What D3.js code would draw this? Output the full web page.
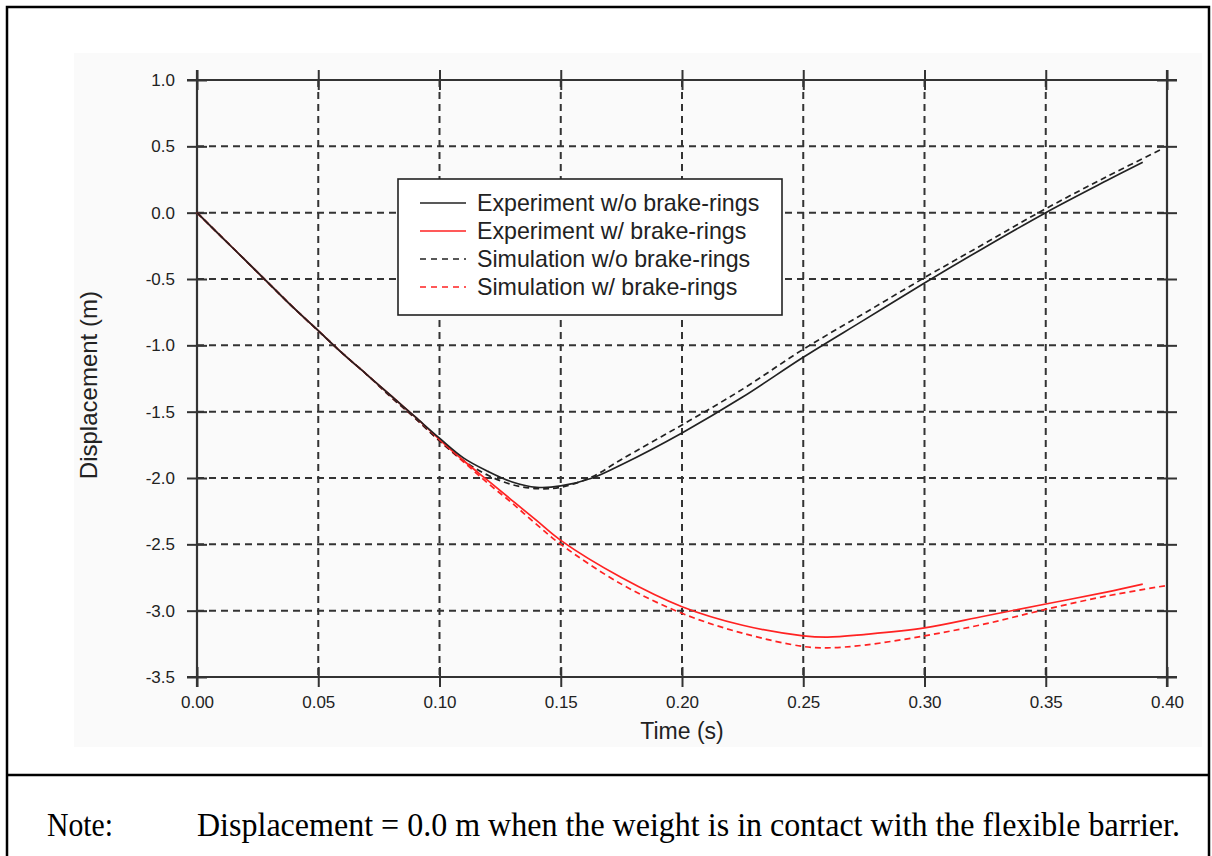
<!DOCTYPE html>
<html>
<head>
<meta charset="utf-8">
<script src="https://cdn.jsdelivr.net/npm/d3@7"></script>
<style>
  html, body { margin: 0; padding: 0; background: #ffffff; }
  svg { display: block; }
</style>
</head>
<body>
<svg id="chart" width="1212" height="856"></svg>
<script>
// ---------------- data ----------------
const seriesNames = [
  "Experiment w/o brake-rings",
  "Experiment w/ brake-rings",
  "Simulation w/o brake-rings",
  "Simulation w/ brake-rings"
];

const tNoRings = [0, 0.01, 0.02, 0.03, 0.04, 0.05, 0.06, 0.07, 0.08, 0.09, 0.10, 0.11, 0.12, 0.13, 0.14, 0.15, 0.163, 0.175, 0.20, 0.225, 0.25, 0.275, 0.30, 0.325, 0.35, 0.375, 0.39];
const expNoRings = [0, -0.18, -0.36, -0.54, -0.72, -0.89, -1.06, -1.22, -1.38, -1.54, -1.70, -1.85, -1.95, -2.03, -2.07, -2.06, -2.00, -1.90, -1.66, -1.39, -1.09, -0.81, -0.53, -0.26, 0.00, 0.24, 0.38];

const tSimNoRings = [0, 0.01, 0.02, 0.03, 0.04, 0.05, 0.06, 0.07, 0.08, 0.09, 0.10, 0.11, 0.12, 0.13, 0.14, 0.15, 0.163, 0.175, 0.20, 0.225, 0.25, 0.275, 0.30, 0.325, 0.35, 0.375, 0.398];
const simNoRings = [0, -0.18, -0.36, -0.54, -0.72, -0.89, -1.06, -1.22, -1.39, -1.55, -1.72, -1.87, -1.98, -2.05, -2.08, -2.07, -1.99, -1.86, -1.60, -1.33, -1.03, -0.76, -0.49, -0.23, 0.03, 0.27, 0.48];

const tRings = [0, 0.01, 0.02, 0.03, 0.04, 0.05, 0.06, 0.07, 0.08, 0.09, 0.10, 0.11, 0.12, 0.13, 0.14, 0.15, 0.175, 0.20, 0.225, 0.25, 0.26, 0.275, 0.30, 0.325, 0.35, 0.375, 0.39];
const expRings = [0, -0.18, -0.36, -0.54, -0.72, -0.89, -1.06, -1.22, -1.38, -1.54, -1.71, -1.87, -2.02, -2.17, -2.32, -2.47, -2.75, -2.97, -3.11, -3.19, -3.20, -3.18, -3.13, -3.04, -2.95, -2.86, -2.80];

const tSimRings = [0, 0.01, 0.02, 0.03, 0.04, 0.05, 0.06, 0.07, 0.08, 0.09, 0.10, 0.11, 0.12, 0.13, 0.14, 0.15, 0.175, 0.20, 0.225, 0.25, 0.26, 0.275, 0.30, 0.325, 0.35, 0.375, 0.40];
const simRings = [0, -0.18, -0.36, -0.54, -0.72, -0.89, -1.06, -1.22, -1.39, -1.55, -1.72, -1.88, -2.04, -2.19, -2.35, -2.50, -2.80, -3.02, -3.17, -3.27, -3.28, -3.26, -3.19, -3.10, -2.99, -2.89, -2.81];

const xTicks = [0, 0.05, 0.10, 0.15, 0.20, 0.25, 0.30, 0.35, 0.40];
const yTicks = [1.0, 0.5, 0.0, -0.5, -1.0, -1.5, -2.0, -2.5, -3.0, -3.5];

const xTitle = "Time (s)";
const yTitle = "Displacement (m)";
const noteLabel = "Note:";
const noteText = "Displacement = 0.0 m when the weight is in contact with the flexible barrier.";

// ---------------- drawing ----------------
const svg = d3.select("#chart");
const sans = "'Liberation Sans', Arial, Helvetica, sans-serif";
const serif = "'Liberation Serif', 'Times New Roman', Times, serif";
const axisColor = "#333333";

// outer frame and divider
svg.append("rect").attr("x", 7).attr("y", 7).attr("width", 1202).attr("height", 870)
  .attr("fill", "none").attr("stroke", "#000").attr("stroke-width", 2.5);
svg.append("line").attr("x1", 7).attr("x2", 1209).attr("y1", 775).attr("y2", 775)
  .attr("stroke", "#000").attr("stroke-width", 2.5);

// chart panel background
svg.append("rect").attr("x", 74).attr("y", 53).attr("width", 1128).attr("height", 694)
  .attr("fill", "#fafafa");

const x = d3.scaleLinear().domain([0, 0.4]).range([197, 1167]);
const y = d3.scaleLinear().domain([-3.5, 1.0]).range([677, 80]);

// grid (dashed)
const grid = svg.append("g").attr("stroke", axisColor).attr("stroke-width", 2)
  .attr("stroke-dasharray", "7,5");
grid.selectAll("line.v").data(xTicks.slice(1, -1)).join("line")
  .attr("class", "v")
  .attr("x1", d => x(d)).attr("x2", d => x(d))
  .attr("y1", y(1.0)).attr("y2", y(-3.5));
grid.selectAll("line.h").data(yTicks.slice(1, -1)).join("line")
  .attr("class", "h")
  .attr("x1", x(0)).attr("x2", x(0.4))
  .attr("y1", d => y(d)).attr("y2", d => y(d));

// axes (bottom/left with labels, top/right ticks only)
const tick = 10;
const xAxisB = d3.axisBottom(x).tickValues(xTicks).tickFormat(d => d.toFixed(2))
  .tickSizeInner(tick).tickSizeOuter(0).tickPadding(9);
const yAxisL = d3.axisLeft(y).tickValues(yTicks).tickFormat(d => d.toFixed(1))
  .tickSizeInner(tick).tickSizeOuter(0).tickPadding(12);
const xAxisT = d3.axisTop(x).tickValues(xTicks).tickFormat("").tickSizeInner(tick).tickSizeOuter(0);
const yAxisR = d3.axisRight(y).tickValues(yTicks).tickFormat("").tickSizeInner(tick).tickSizeOuter(0);

function styleAxis(g, crossAttr, sign) {
  g.select(".domain").remove();
  g.selectAll(".tick line").attr("stroke", axisColor).attr("stroke-width", 2)
    .attr(crossAttr, sign * tick);
  g.selectAll(".tick text").attr("fill", "#222").style("font-family", sans).style("font-size", "17px");
}
svg.append("g").attr("transform", `translate(0,${y(-3.5)})`).call(xAxisB).call(g => styleAxis(g, "y1", -1));
svg.append("g").attr("transform", `translate(${x(0)},0)`).call(yAxisL).call(g => styleAxis(g, "x1", 1));
svg.append("g").attr("transform", `translate(0,${y(1.0)})`).call(xAxisT).call(g => styleAxis(g, "y1", 1));
svg.append("g").attr("transform", `translate(${x(0.4)},0)`).call(yAxisR).call(g => styleAxis(g, "x1", -1));

// axis frame lines (extended like the original)
const frame = svg.append("g").attr("stroke", axisColor).attr("stroke-width", 2.2);
frame.append("line").attr("x1", x(0)).attr("x2", x(0)).attr("y1", y(1.0) - tick).attr("y2", y(-3.5) + tick);
frame.append("line").attr("x1", x(0.4)).attr("x2", x(0.4)).attr("y1", y(1.0) - tick).attr("y2", y(-3.5) + tick);
frame.append("line").attr("x1", x(0) - tick).attr("x2", x(0.4) + tick).attr("y1", y(1.0)).attr("y2", y(1.0));
frame.append("line").attr("x1", x(0) - tick).attr("x2", x(0.4) + tick).attr("y1", y(-3.5)).attr("y2", y(-3.5));

// series
const line = d3.line().x(d => x(d[0])).y(d => y(d[1])).curve(d3.curveCatmullRom.alpha(0.5));
const series = [
  { t: tSimRings, v: simRings, color: "#ff2222", dash: "6,4" },
  { t: tSimNoRings, v: simNoRings, color: "#222222", dash: "6,4" },
  { t: tRings, v: expRings, color: "#ff2222", dash: null },
  { t: tNoRings, v: expNoRings, color: "#222222", dash: null }
];
series.forEach(s => {
  svg.append("path")
    .datum(s.t.map((t, i) => [t, s.v[i]]))
    .attr("fill", "none")
    .attr("stroke", s.color)
    .attr("stroke-width", 1.7)
    .attr("stroke-dasharray", s.dash)
    .attr("d", line);
});

// axis titles
svg.append("text").attr("x", x(0.2)).attr("y", 739).attr("text-anchor", "middle")
  .style("font-family", sans).style("font-size", "23px").attr("fill", "#222").text(xTitle);
svg.append("text").attr("transform", `translate(97,${y(-1.3)}) rotate(-90)`).attr("text-anchor", "middle")
  .style("font-family", sans).style("font-size", "24px").attr("fill", "#222").text(yTitle);

// legend
const legend = svg.append("g");
legend.append("rect").attr("x", 398).attr("y", 179).attr("width", 384).attr("height", 136)
  .attr("fill", "#ffffff").attr("stroke", "#222").attr("stroke-width", 1.6);
const legendItems = [
  { name: seriesNames[0], color: "#222222", dash: null },
  { name: seriesNames[1], color: "#ff2222", dash: null },
  { name: seriesNames[2], color: "#222222", dash: "6,5" },
  { name: seriesNames[3], color: "#ff2222", dash: "6,5" }
];
legendItems.forEach((it, i) => {
  const cy = 203 + i * 28;
  legend.append("line").attr("x1", 420).attr("x2", 466).attr("y1", cy).attr("y2", cy)
    .attr("stroke", it.color).attr("stroke-width", 1.7).attr("stroke-dasharray", it.dash);
  legend.append("text").attr("x", 477).attr("y", cy).attr("dy", "0.35em")
    .style("font-family", sans).style("font-size", "23.2px").attr("fill", "#222").text(it.name);
});

// note (glyphs stretched vertically like the reference)
const note = svg.append("g").attr("transform", "translate(0,836) scale(1,1.22)");
note.append("text").attr("x", 47).attr("y", 0)
  .attr("textLength", 66).attr("lengthAdjust", "spacingAndGlyphs")
  .style("font-family", serif).style("font-size", "28px").attr("fill", "#000").text(noteLabel);
note.append("text").attr("x", 197).attr("y", 0)
  .attr("textLength", 983).attr("lengthAdjust", "spacingAndGlyphs")
  .style("font-family", serif).style("font-size", "27.5px").attr("fill", "#000").text(noteText);
</script>
</body>
</html>
